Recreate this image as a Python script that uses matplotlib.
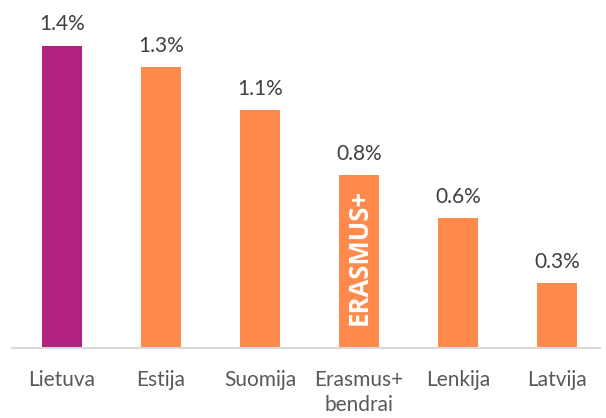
import numpy as np
import matplotlib.pyplot as plt

plt.rcParams['font.family'] = ['Lato', 'DejaVu Sans']

countries = ["Lietuva", "Estija", "Suomija", "Erasmus+\nbendrai", "Lenkija", "Latvija"]
values = [1.4, 1.3, 1.1, 0.8, 0.6, 0.3]
colors = ["#B2227F", "#FF8A4C", "#FF8A4C", "#FF8A4C", "#FF8A4C", "#FF8A4C"]

fig = plt.figure(figsize=(6.06, 4.18), dpi=100)
ax = fig.add_axes([12 / 606, 0.1675, 588 / 606, 0.827])

x = np.arange(len(countries))
bars = ax.bar(x, values, width=0.41, color=colors)

for b, v in zip(bars, values):
    ax.annotate(f"{v:.1f}%", (b.get_x() + b.get_width() / 2, v),
                xytext=(0, 8), textcoords="offset points",
                ha="center", va="bottom", fontsize=15, color="#404040")

# label inside the Erasmus+ bar
ax.text(x[3], 0.105, "ERASMUS+", rotation=90, ha="center", va="bottom",
        fontsize=18.5, fontweight="bold", color="white", family="Open Sans")

ax.set_xlim(-50 / 99, 538 / 99)
ax.set_ylim(0, 1.6)
ax.set_yticks([])
ax.set_xticks(x)
ax.set_xticklabels(countries, fontsize=15, color="#595959", linespacing=1.3)
ax.tick_params(axis="x", length=0, pad=16)

for s in ["top", "right", "left"]:
    ax.spines[s].set_visible(False)
ax.spines["bottom"].set_color("#D9D9D9")
ax.spines["bottom"].set_linewidth(1.5)

fig.savefig("out.png", dpi=100)
